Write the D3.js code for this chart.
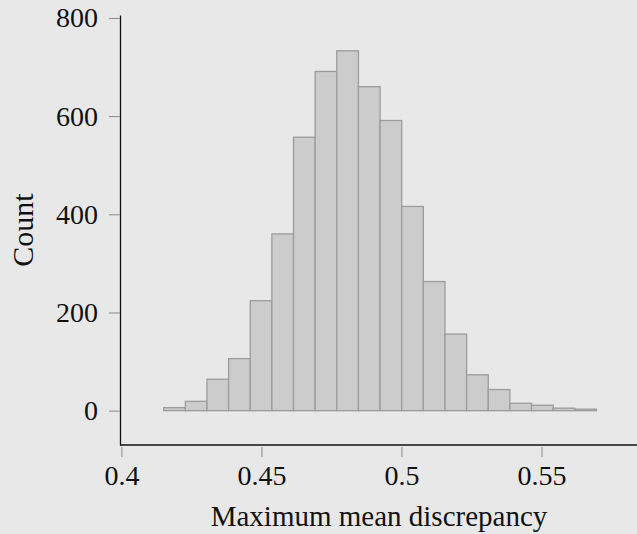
<!DOCTYPE html>
<html>
<head>
<meta charset="utf-8">
<script src="https://cdn.jsdelivr.net/npm/d3@7"></script>
<style>
  html, body { margin: 0; padding: 0; background: #e8e8e8; }
  svg { display: block; font-family: "Liberation Serif", "DejaVu Serif", serif; }
</style>
</head>
<body>
<div id="chart"></div>
<script>
// histogram bins: lower edge of first bin and common width
const binStart = 0.4151;
const binWidth = 0.007726;
const counts = [6, 19, 64, 106, 224, 360, 557, 691, 733, 660, 591, 416, 263, 156, 73, 43, 15, 11, 5, 3];
const xTicks = [0.4, 0.45, 0.5, 0.55];
const yTicks = [0, 200, 400, 600, 800];

const width = 637, height = 534;

const svg = d3.select("#chart")
    .append("svg")
    .attr("width", width)
    .attr("height", height);

svg.append("rect")
    .attr("width", width)
    .attr("height", height)
    .attr("fill", "#e8e8e8");

const xScale = d3.scaleLinear()
    .domain([0.3995, 0.5841])
    .range([120, 637]);
const yScale = d3.scaleLinear()
    .domain([-70, 806])
    .range([445, 15]);

const bins = counts.map((c, i) => ({
    x0: binStart + i * binWidth,
    x1: binStart + (i + 1) * binWidth,
    count: c
}));

svg.selectAll(".bar")
    .data(bins)
    .enter()
    .append("rect")
    .attr("class", "bar")
    .attr("x", d => xScale(d.x0))
    .attr("width", d => xScale(d.x1) - xScale(d.x0))
    .attr("y", d => yScale(d.count))
    .attr("height", d => yScale(0) - yScale(d.count))
    .attr("fill", "#cccccc")
    .attr("stroke", "#9c9c9c")
    .attr("stroke-width", 1.3);

// y axis
const yAxis = d3.axisLeft(yScale)
    .tickValues(yTicks)
    .tickSize(11)
    .tickSizeOuter(0)
    .tickPadding(11)
    .tickFormat(d3.format("d"));
const drawY = svg.append("g")
    .attr("class", "axis y-axis")
    .attr("transform", "translate(120,0)")
    .call(yAxis);
drawY.select(".domain").attr("stroke", "#111").attr("stroke-width", 1.3);
drawY.selectAll(".tick line").attr("stroke", "#8a8a8a");
drawY.selectAll(".tick text")
    .attr("fill", "#111")
    .style("font-size", "28px")
    .style("font-family", "Liberation Serif, serif");

// x axis: separate baseline and offset ticks
svg.append("line")
    .attr("x1", 120).attr("x2", 637)
    .attr("y1", 445).attr("y2", 445)
    .attr("stroke", "#111")
    .attr("stroke-width", 1.3);

const xAxis = d3.axisBottom(xScale)
    .tickValues(xTicks)
    .tickSize(10)
    .tickSizeOuter(0)
    .tickFormat(d => d3.format("")(d));
const drawX = svg.append("g")
    .attr("class", "axis x-axis")
    .attr("transform", "translate(0,447)")
    .call(xAxis);
drawX.select(".domain").remove();
drawX.selectAll(".tick line").attr("stroke", "#8a8a8a");
drawX.selectAll(".tick text")
    .attr("fill", "#111")
    .attr("y", 38)
    .attr("dy", 0)
    .style("font-size", "28px")
    .style("font-family", "Liberation Serif, serif");

// axis titles
svg.append("text")
    .attr("class", "x-axis-title")
    .attr("x", 379)
    .attr("y", 526)
    .attr("text-anchor", "middle")
    .attr("fill", "#111")
    .style("font-size", "29px")
    .text("Maximum mean discrepancy");

svg.append("text")
    .attr("class", "y-axis-title")
    .attr("transform", "translate(33,230) rotate(-90)")
    .attr("text-anchor", "middle")
    .attr("fill", "#111")
    .style("font-size", "30px")
    .text("Count");
</script>
</body>
</html>
